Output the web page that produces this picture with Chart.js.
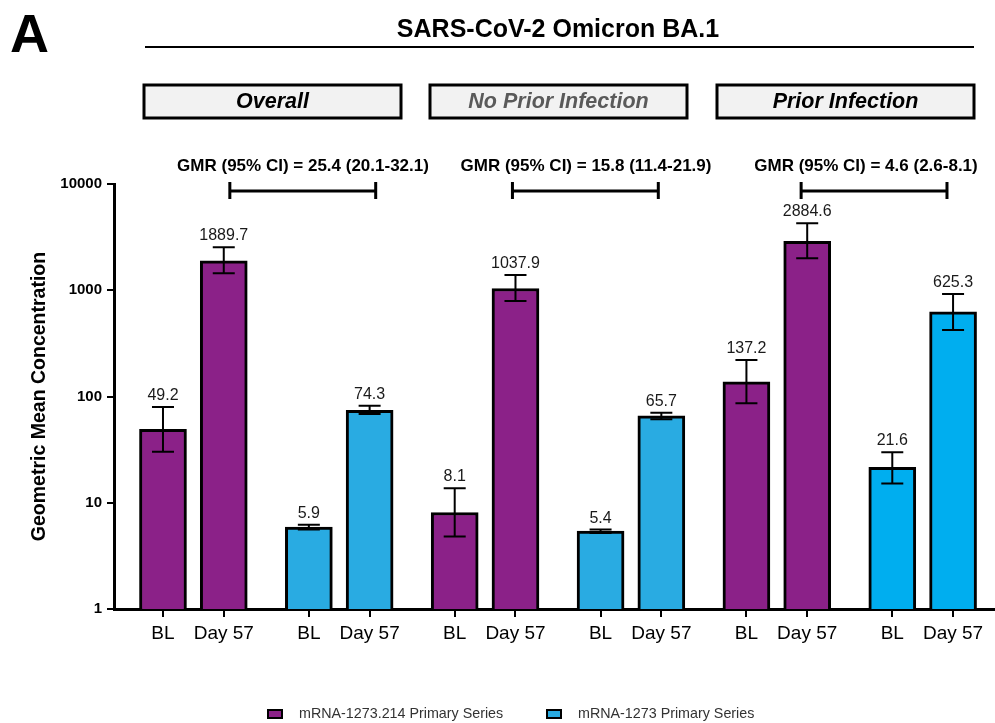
<!DOCTYPE html>
<html>
<head>
<meta charset="utf-8">
<script src="https://cdn.jsdelivr.net/npm/chart.js@4.4.1/dist/chart.umd.min.js"></script>
<style>
  html, body { margin: 0; padding: 0; background: #fff; }
  #wrap { width: 995px; height: 723px; }
</style>
</head>
<body>
<div id="wrap"><canvas id="gmcChart" width="995" height="723"></canvas></div>
<script>
var FONT = "'Liberation Sans', Arial, Helvetica, sans-serif";

// x positions of the bars (BL / Day 57 pairs, with a gap between pairs)
var purpleX = [0, 1, 4.8, 5.8, 9.6, 10.6];
var blueX = [2.4, 3.4, 7.2, 8.2, 12, 13];
var tickPositions = [0, 1, 2.4, 3.4, 4.8, 5.8, 7.2, 8.2, 9.6, 10.6, 12, 13];
var tickLabels = ['BL', 'Day 57', 'BL', 'Day 57', 'BL', 'Day 57', 'BL', 'Day 57', 'BL', 'Day 57', 'BL', 'Day 57'];

// mRNA-1273.214 primary series (purple)
var purpleGMC = [49.2, 1889.7, 8.1, 1037.9, 137.2, 2884.6];
var purpleLow = [30.2, 1444, 4.8, 792, 86.3, 2000];
var purpleHigh = [79.6, 2537, 13.7, 1392, 220.6, 4266];

// mRNA-1273 primary series (blue)
var blueGMC = [5.9, 74.3, 5.4, 65.7, 21.6, 625.3];
var blueLow = [5.6, 68.5, 5.2, 61.0, 15.2, 423];
var blueHigh = [6.2, 81.9, 5.6, 70.4, 29.9, 922];

var yTicks = [1, 10, 100, 1000, 10000];

var panelNames = ['Overall', 'No Prior Infection', 'Prior Infection'];
var gmrLabels = [
    'GMR (95% CI) = 25.4 (20.1-32.1)',
    'GMR (95% CI) = 15.8 (11.4-21.9)',
    'GMR (95% CI) = 4.6 (2.6-8.1)'
];
var bracketFrom = [1.1, 5.75, 10.5];
var bracketTo = [3.5, 8.15, 12.9];

var purple = '#8B2188';
var blueColors = ['#29ABE2', '#29ABE2', '#29ABE2', '#29ABE2', '#00AEEF', '#00AEEF'];

var intervals = [
    { low: purpleLow, high: purpleHigh, mid: purpleGMC },
    { low: blueLow, high: blueHigh, mid: blueGMC }
];

// error bars + value labels
var errorBars = {
    id: 'errorBars',
    afterDatasetsDraw: function (chart) {
        var ctx = chart.ctx;
        var y = chart.scales.y;
        ctx.save();
        chart.data.datasets.forEach(function (ds, di) {
            var meta = chart.getDatasetMeta(di);
            var iv = intervals[di];
            meta.data.forEach(function (bar, i) {
                var top = y.getPixelForValue(iv.high[i]);
                var bot = y.getPixelForValue(iv.low[i]);
                var cx = bar.x;
                ctx.strokeStyle = '#000';
                ctx.lineWidth = 2;
                ctx.beginPath();
                ctx.moveTo(cx, top); ctx.lineTo(cx, bot);
                ctx.moveTo(cx - 11, top); ctx.lineTo(cx + 11, top);
                ctx.moveTo(cx - 11, bot); ctx.lineTo(cx + 11, bot);
                ctx.stroke();
                ctx.fillStyle = '#1a1a1a';
                ctx.font = '16px ' + FONT;
                ctx.textAlign = 'center';
                ctx.textBaseline = 'alphabetic';
                ctx.fillText(iv.mid[i].toFixed(1), cx, top - 7);
            });
        });
        ctx.restore();
    }
};

// title, panel boxes, GMR brackets, legend
var decorations = {
    id: 'decorations',
    afterDraw: function (chart) {
        var ctx = chart.ctx;
        var x = chart.scales.x;
        ctx.save();
        ctx.fillStyle = '#000';
        ctx.textAlign = 'left';
        ctx.textBaseline = 'alphabetic';
        ctx.font = 'bold 54px ' + FONT;
        ctx.fillText('A', 10, 52);

        ctx.textAlign = 'center';
        ctx.font = 'bold 25px ' + FONT;
        ctx.fillText('SARS-CoV-2 Omicron BA.1', 558, 37);
        ctx.strokeStyle = '#000';
        ctx.lineWidth = 2;
        ctx.beginPath();
        ctx.moveTo(145, 47); ctx.lineTo(974, 47);
        ctx.stroke();

        var boxLeft = [144, 430, 717];
        panelNames.forEach(function (name, i) {
            ctx.fillStyle = '#F2F2F2';
            ctx.fillRect(boxLeft[i], 85, 257, 33);
            ctx.lineWidth = 3;
            ctx.strokeStyle = '#000';
            ctx.strokeRect(boxLeft[i], 85, 257, 33);
            ctx.fillStyle = i === 1 ? '#5a5a5a' : '#000';
            ctx.font = 'italic bold 21.5px ' + FONT;
            ctx.textBaseline = 'middle';
            ctx.fillText(name, boxLeft[i] + 128.5, 102);
        });

        var gmrCenter = [303, 586, 866];
        gmrLabels.forEach(function (txt, i) {
            ctx.fillStyle = '#000';
            ctx.font = 'bold 17px ' + FONT;
            ctx.textBaseline = 'middle';
            ctx.fillText(txt, gmrCenter[i], 166);
            var x0 = x.getPixelForValue(bracketFrom[i]);
            var x1 = x.getPixelForValue(bracketTo[i]);
            ctx.lineWidth = 3;
            ctx.beginPath();
            ctx.moveTo(x0, 191); ctx.lineTo(x1, 191);
            ctx.moveTo(x0, 182); ctx.lineTo(x0, 199);
            ctx.moveTo(x1, 182); ctx.lineTo(x1, 199);
            ctx.stroke();
        });

        // legend
        var items = [
            { text: 'mRNA-1273.214 Primary Series', color: purple, x: 268 },
            { text: 'mRNA-1273 Primary Series', color: blueColors[0], x: 547 }
        ];
        items.forEach(function (it) {
            ctx.fillStyle = it.color;
            ctx.fillRect(it.x, 710, 14, 8);
            ctx.lineWidth = 2;
            ctx.strokeStyle = '#000';
            ctx.strokeRect(it.x, 710, 14, 8);
            ctx.fillStyle = '#333';
            ctx.font = '14.3px ' + FONT;
            ctx.textAlign = 'left';
            ctx.textBaseline = 'middle';
            ctx.fillText(it.text, it.x + 31, 714);
        });
        ctx.restore();
    }
};

var ctx = document.getElementById('gmcChart').getContext('2d');

var gmcChart = new Chart(ctx, {
    type: 'bar',
    data: {
        datasets: [
            {
                label: 'mRNA-1273.214 Primary Series',
                data: purpleX.map(function (v, i) { return { x: v, y: purpleGMC[i] }; }),
                backgroundColor: purple,
                borderColor: '#000',
                borderWidth: 3,
                barThickness: 47,
                grouped: false
            },
            {
                label: 'mRNA-1273 Primary Series',
                data: blueX.map(function (v, i) { return { x: v, y: blueGMC[i] }; }),
                backgroundColor: blueColors,
                borderColor: '#000',
                borderWidth: 3,
                barThickness: 47,
                grouped: false
            }
        ]
    },
    options: {
        responsive: false,
        animation: false,
        layout: {
            padding: { top: 184, left: 0, right: 0, bottom: 0 }
        },
        plugins: {
            legend: { display: false },
            tooltip: { enabled: false }
        },
        scales: {
            x: {
                type: 'linear',
                min: -0.806,
                max: 13.69,
                offset: false,
                afterBuildTicks: function (axis) {
                    axis.ticks = tickPositions.map(function (v) { return { value: v }; });
                },
                afterFit: function (scale) {
                    scale.height = 114;
                    scale.paddingLeft = 0; scale.paddingRight = 0;
                    scale.paddingTop = 0; scale.paddingBottom = 0;
                },
                ticks: {
                    autoSkip: false,
                    maxRotation: 0,
                    minRotation: 0,
                    padding: 5,
                    color: '#000',
                    font: { family: FONT, size: 19 },
                    callback: function (value, index) { return tickLabels[index]; }
                },
                grid: {
                    offset: false,
                    drawOnChartArea: false,
                    drawTicks: true,
                    tickLength: 8,
                    color: '#000',
                    lineWidth: 2
                },
                border: { display: true, color: '#000', width: 3 }
            },
            y: {
                type: 'logarithmic',
                min: 1,
                max: 10000,
                afterBuildTicks: function (axis) {
                    axis.ticks = yTicks.map(function (v) { return { value: v }; });
                },
                afterFit: function (scale) {
                    scale.width = 114;
                    scale.paddingLeft = 0; scale.paddingRight = 0;
                    scale.paddingTop = 0; scale.paddingBottom = 0;
                },
                ticks: {
                    padding: 5,
                    color: '#000',
                    font: { family: FONT, size: 15, weight: 'bold' },
                    callback: function (value) { return String(value); }
                },
                grid: {
                    offset: false,
                    drawOnChartArea: false,
                    drawTicks: true,
                    tickLength: 7,
                    color: '#000',
                    lineWidth: 2
                },
                border: { display: true, color: '#000', width: 3 },
                title: {
                    display: true,
                    text: 'Geometric Mean Concentration',
                    color: '#000',
                    font: { family: FONT, size: 19.5, weight: 'bold' },
                    padding: { top: 28, bottom: 0 }
                }
            }
        }
    },
    plugins: [errorBars, decorations]
});
</script>
</body>
</html>
